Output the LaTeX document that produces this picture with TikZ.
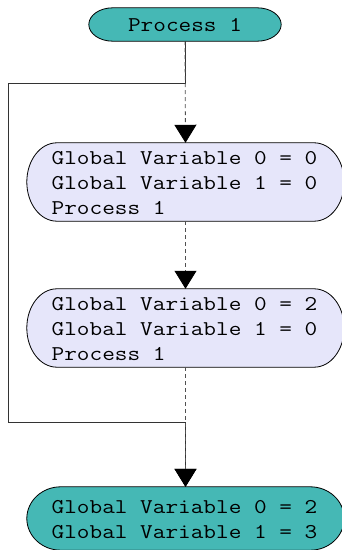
\documentclass[tikz,border=0pt]{standalone}
\usepackage{graphicx}
\usetikzlibrary{arrows.meta,backgrounds,calc}
\definecolor{teal}{RGB}{69,184,181}
\definecolor{lav}{RGB}{230,230,250}
\definecolor{flowgray}{RGB}{80,80,80}
% widened monospaced text, one or more left-aligned lines
\newcommand\wtext[1]{\scalebox{1.17}[1]{\begin{tabular}{@{}l@{}}#1\end{tabular}}}
% lowered text whose box keeps its size
\newcommand\btext[2]{\hspace*{-2pt}\raisebox{-#1}[\height][\depth]{\wtext{#2}}}
\tikzset{
  txt/.style={font=\fontsize{21}{25}\selectfont\ttfamily, inner sep=0pt},
  blk/.style={txt, minimum width=317pt, minimum height=78pt},
  head/.style={-{Triangle[length=18pt,width=22pt,color=black]}},
  flow/.style={head, draw=flowgray, line width=0.8pt, dash pattern=on 4pt off 3pt},
  loop/.style={head, draw=black!80, line width=0.8pt}
}
% stadium outline with elliptical ends around a node
\newcommand\drawstadium[3]{%
  \path[draw=black,line width=0.8pt,fill=#3]
    let \p1=(#1.north west), \p2=(#1.south east), \n1={(\y1-\y2)/2} in
    (\x1+#2,\y1) -- (\x2-#2,\y1)
    arc[start angle=90,end angle=-90,x radius=#2,y radius=\n1]
    -- (\x1+#2,\y2)
    arc[start angle=270,end angle=90,x radius=#2,y radius=\n1] -- cycle;}
\begin{document}
\begin{tikzpicture}[x=1pt,y=1pt]
  \useasboundingbox (0,0) rectangle (341,550);
  \node[txt, minimum width=192pt, minimum height=33pt] (start) at (185,525.5) {\raisebox{-2.5pt}[\height][\depth]{\wtext{Process 1}}};
  \node[blk] (b1) at (185.5,368) {\btext{3pt}{Global Variable 0 = 0\\Global Variable 1 = 0\\Process 1}};
  \node[blk] (b2) at (185.5,222) {\btext{3pt}{Global Variable 0 = 2\\Global Variable 1 = 0\\Process 1}};
  \node[blk, minimum height=63pt] (end) at (185.5,31.5) {\btext{2pt}{Global Variable 0 = 2\\Global Variable 1 = 3}};
  \begin{scope}[on background layer]
    \drawstadium{start}{24pt}{teal}
    \drawstadium{b1}{30pt}{lav}
    \drawstadium{b2}{30pt}{lav}
    \drawstadium{end}{34pt}{teal}
  \end{scope}
  \coordinate (lt) at (8,467);
  \coordinate (lb) at (8,128);
  \draw[loop] (start.south) |- (lt) -- (lb) -| (end.north);
  \draw[flow] (start.south) -- (b1.north);
  \draw[flow] (b1.south) -- (b2.north);
  \draw[flow] (b2.south) -- (end.north);
\end{tikzpicture}
\end{document}
